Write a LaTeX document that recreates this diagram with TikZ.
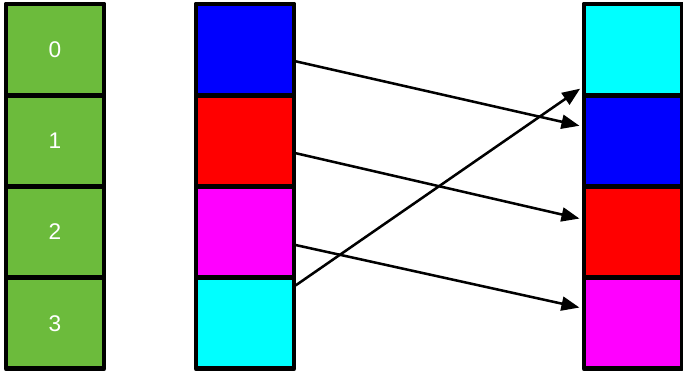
\documentclass[tikz,border=0pt]{standalone}
\usepackage{fontspec}
\setmainfont{Liberation Sans}
\usepackage{xcolor}
\usepackage{tikz}
\usetikzlibrary{calc,positioning,arrows.meta}
\definecolor{idxgreen}{HTML}{6CBB3C}
\definecolor{cellblue}{HTML}{0000FF}
\definecolor{cellred}{HTML}{FF0000}
\definecolor{cellmagenta}{HTML}{FF00FF}
\definecolor{cellcyan}{HTML}{00FFFF}

\begin{document}
\begin{tikzpicture}[
  x=0.75pt, y=-0.75pt,
  cell/.style={
    rectangle, draw=black, line width=3.7pt, line join=round,
    minimum width=73.5pt, minimum height=68.4pt,
    inner sep=0pt, outer sep=0pt,
  },
  idxcell/.style={
    cell, fill=idxgreen, text=white,
    font=\fontsize{17}{20}\selectfont,
  },
  moveline/.style={
    line width=1.9pt, -{Triangle[length=13.5pt,width=10.5pt]},
    shorten <=1.5pt, shorten >=3.5pt,
  },
]
\useasboundingbox (0,0) rectangle (683,372);

% index column
\node[idxcell] (idx0) at (55, 49.6) {0};
\node[idxcell, below=0pt of idx0] (idx1) {1};
\node[idxcell, below=0pt of idx1] (idx2) {2};
\node[idxcell, below=0pt of idx2] (idx3) {3};

% source column
\node[cell, fill=cellblue] (src0) at (245, 49.6) {};
\node[cell, fill=cellred, below=0pt of src0] (src1) {};
\node[cell, fill=cellmagenta, below=0pt of src1] (src2) {};
\node[cell, fill=cellcyan, below=0pt of src2] (src3) {};

% destination column
\node[cell, fill=cellcyan] (dst0) at (633, 49.6) {};
\node[cell, fill=cellblue, below=0pt of dst0] (dst1) {};
\node[cell, fill=cellred, below=0pt of dst1] (dst2) {};
\node[cell, fill=cellmagenta, below=0pt of dst2] (dst3) {};

% moves
\draw[moveline] ([yshift=-8.5pt]src0.east) -- ([yshift=10.5pt]dst1.west);
\draw[moveline] ([yshift=-9pt]src1.east) -- ([yshift=9.3pt]dst2.west);
\draw[moveline] ([yshift=-9.5pt]src2.east) -- ([yshift=11pt]dst3.west);
\draw[moveline] ([yshift=27.5pt]src3.east) -- ([yshift=-27.3pt]dst0.west);

\end{tikzpicture}
\end{document}
